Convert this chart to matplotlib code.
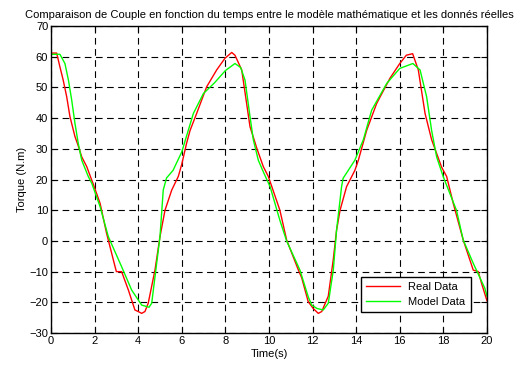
import matplotlib
matplotlib.use("Agg")
import matplotlib.pyplot as plt

plt.rcParams["font.family"] = ["Liberation Sans", "DejaVu Sans"]

# values
t_real = [0.0, 0.26, 0.41, 0.56, 0.72, 0.87, 1.1, 1.25, 1.41, 1.64, 1.87, 1.94, 2.25, 2.55,
          2.94, 3.0, 3.24, 3.55, 3.85, 4.0, 4.16, 4.31, 4.46, 4.77, 5.0, 5.23, 5.54,
          5.84, 6.0, 6.22, 6.38, 6.68, 7.14, 7.6, 7.98, 8.29, 8.44, 8.75, 9.13,
          9.45, 9.74, 9.97, 10.5, 10.81, 11.35, 11.5, 11.8, 12.03, 12.26, 12.42, 12.72, 12.95,
          13.1, 13.26, 13.56, 13.94, 14.1, 14.48, 14.94, 15.55, 16.0, 16.3, 16.59,
          16.85, 17.16, 17.46, 17.92, 18.15, 18.45, 18.91, 19.37, 19.6, 19.75, 20.0]
v_real = [61.2, 61.2, 56.7, 52.4, 47.0, 40.5, 34.0, 31.0, 27.4, 24.2, 19.8, 18.5, 12.3, 2.5,
          -8.4, -10.0, -10.0, -16.0, -22.5, -23.0, -23.6, -23.0, -20.3, -9.5, 1.4, 10.0,
          16.6, 21.0, 25.0, 31.8, 36.0, 41.5, 50.2, 55.7, 59.5, 61.4, 60.5, 55.7,
          37.2, 30.0, 24.2, 21.0, 10.0, 0.3, -9.5, -12.0, -19.8, -22.0, -23.6, -23.0, -18.0, -6.0,
          3.5, 10.0, 17.7, 23.0, 26.3, 36.0, 44.8, 53.0, 57.8, 60.5, 61.0,
          55.7, 41.5, 33.0, 24.0, 21.0, 12.3, 0.3, -9.5, -10.0, -13.8, -19.5]

t_model = [0.0, 0.41, 0.64, 0.8, 0.95, 1.1, 1.25, 1.41, 1.71, 1.87, 2.25, 2.63, 3.24,
           3.7, 4.16, 4.5, 4.62, 5.0, 5.15, 5.3, 5.6, 6.0, 6.53, 6.99, 7.5, 8.0, 8.44,
           8.7, 8.9, 9.13, 9.28, 9.51, 9.74, 10.05, 10.5, 10.81, 11.42, 11.8, 11.96, 12.2,
           12.49, 12.72, 12.95, 13.1, 13.33, 13.4, 13.94, 14.33, 14.71, 15.4, 16.0,
           16.6, 16.93, 17.23, 17.46, 17.69, 17.99, 18.6, 18.91, 19.37, 19.9, 20.0]
v_model = [60.8, 60.8, 57.8, 52.4, 45.9, 38.3, 31.8, 26.3, 21.0, 18.8, 11.2, 1.4, -8.4,
           -16.0, -20.9, -21.6, -20.3, 1.4, 16.6, 20.5, 23.0, 29.0, 41.5, 48.0, 51.5, 55.5, 57.8,
           56.5, 52.4, 40.5, 33.0, 26.3, 22.5, 17.7, 6.7, 0.0, -9.5, -18.2, -20.9, -22.0,
           -22.5, -20.3, -9.5, 3.5, 17.7, 20.4, 26.3, 33.0, 42.6, 51.3, 56.2,
           57.8, 55.7, 47.0, 36.0, 27.4, 21.0, 10.0, 0.3, -7.3, -15.4, -18.0]

xticks = list(range(0, 21, 2))
yticks = list(range(-30, 71, 10))

fig = plt.figure(figsize=(5.15, 3.67), dpi=100)
ax = fig.add_axes([0.099, 0.0926, 0.8466, 0.8364])

ax.plot(t_real, v_real, color="#ff0000", lw=1.0, label="Real Data")
ax.plot(t_model, v_model, color="#00ff00", lw=1.0, label="Model Data")

ax.set_xlim(0, 20)
ax.set_ylim(-30, 70)
ax.set_xticks(xticks)
ax.set_yticks(yticks)
ax.grid(True, color="black", linestyle=(0, (6, 4)), linewidth=0.8)
ax.tick_params(direction="in", top=True, right=True, labelsize=8, length=4, pad=2)
for s in ax.spines.values():
    s.set_linewidth(1.0)

ax.set_title("Comparaison de Couple en fonction du temps entre le modèle mathématique et les donnés réelles",
             fontsize=8, pad=6)
ax.set_xlabel("Time(s)", fontsize=8, labelpad=2)
ax.set_ylabel("Torque (N.m)", fontsize=8, labelpad=2)

leg = ax.legend(loc="lower right", bbox_to_anchor=(0.975, 0.05), fontsize=8,
                fancybox=False, framealpha=1, edgecolor="black", handlelength=3.0,
                borderpad=0.45, labelspacing=0.45)
leg.get_frame().set_linewidth(1.0)

fig.savefig("out.png", dpi=100)
